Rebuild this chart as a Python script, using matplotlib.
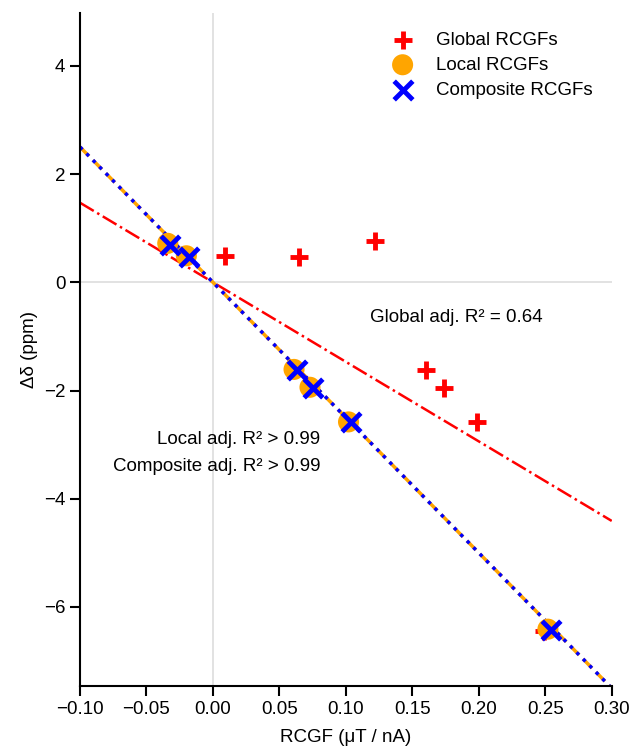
import numpy as np
import matplotlib.pyplot as plt

plt.rcParams['font.family'] = ['Liberation Sans', 'DejaVu Sans']

# global RCGF points
global_x = [0.009, 0.065, 0.122, 0.160, 0.174, 0.199, 0.249]
global_y = [0.48, 0.46, 0.76, -1.63, -1.96, -2.59, -6.44]

# local RCGF points
local_x = [-0.034, -0.020, 0.061, 0.073, 0.102, 0.252]
local_y = [0.72, 0.49, -1.61, -1.94, -2.58, -6.41]

# composite RCGF points
comp_x = [-0.032, -0.018, 0.063, 0.075, 0.104, 0.254]
comp_y = [0.68, 0.46, -1.63, -1.96, -2.59, -6.43]

# fitted lines (slope, intercept)
global_fit = (-14.7, 0.0)
local_fit = (-25.0, 0.0)
comp_fit = (-25.0, 0.0)

xs = np.array([-0.10, 0.30])
fs = 13.5

fig = plt.figure(figsize=(6.3, 7.53), dpi=100)
ax = fig.add_axes([0.127, 0.089, 0.844, 0.894])

ax.axhline(0, color='#dddddd', lw=1.2, zorder=0)
ax.axvline(0, color='#dddddd', lw=1.2, zorder=0)

ax.plot(xs, global_fit[0] * xs + global_fit[1], color='red', ls='-.', lw=1.8, zorder=1)
ax.plot(xs, local_fit[0] * xs + local_fit[1], color='orange', ls='--', lw=2.5, zorder=1)
ax.plot(xs, comp_fit[0] * xs + comp_fit[1], color='blue', ls=':', lw=2.5, zorder=2)

ax.scatter(global_x, global_y, marker='+', s=150, color='red', linewidths=3.5,
           label='Global RCGFs', zorder=3)
ax.scatter(local_x, local_y, marker='o', s=230, color='orange', edgecolors='none',
           label='Local RCGFs', zorder=4)
ax.scatter(comp_x, comp_y, marker='x', s=180, color='blue', linewidths=3.5,
           label='Composite RCGFs', zorder=5)

ax.text(0.118, -0.65, 'Global adj. R\u00b2 = 0.64', fontsize=fs, ha='left', va='center')
ax.text(0.081, -2.91, 'Local adj. R\u00b2 > 0.99', fontsize=fs, ha='right', va='center')
ax.text(0.081, -3.41, 'Composite adj. R\u00b2 > 0.99', fontsize=fs, ha='right', va='center')

ax.set_xlim(-0.10, 0.30)
ax.set_ylim(-7.46, 4.98)
ticks = np.arange(-0.10, 0.301, 0.05)
ax.set_xticks(ticks)
ax.set_xticklabels([f'{v:.2f}'.replace('-', '\u2212') for v in ticks])
ax.set_yticks([-6, -4, -2, 0, 2, 4])
ax.set_yticklabels(['\u22126', '\u22124', '\u22122', '0', '2', '4'])
ax.tick_params(labelsize=fs, length=7, width=1.5, direction='out')

for s in ['top', 'right']:
    ax.spines[s].set_visible(False)
for s in ['left', 'bottom']:
    ax.spines[s].set_linewidth(1.5)

ax.set_xlabel('RCGF (\u03bcT / nA)', fontsize=fs, labelpad=8)
ax.set_ylabel('\u0394\u03b4 (ppm)', fontsize=fs)

ax.legend(loc='upper right', frameon=False, fontsize=fs, handletextpad=0.8,
          borderaxespad=0.6, labelspacing=0.42)

fig.savefig('out.png', dpi=100)
